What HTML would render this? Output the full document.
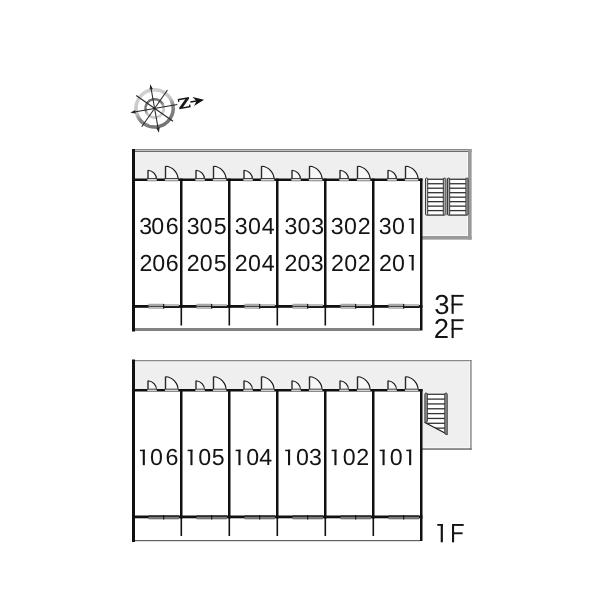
<!DOCTYPE html>
<html><head><meta charset="utf-8"><style>
html,body{margin:0;padding:0;background:#fff;}
svg{display:block;text-rendering:geometricPrecision;will-change:transform;}
</style></head><body>
<svg width="600" height="600" viewBox="0 0 600 600">
<rect width="600" height="600" fill="#fff"/>
<g transform="translate(154.6 108.4) rotate(-10)">
<defs><linearGradient id="go" gradientUnits="userSpaceOnUse" x1="0" y1="-20" x2="0" y2="20" gradientTransform="rotate(-14)"><stop offset="0" stop-color="#d0d0d0"/><stop offset="0.42" stop-color="#c6c6c6"/><stop offset="0.62" stop-color="#858585"/><stop offset="1" stop-color="#737373"/></linearGradient><linearGradient id="gi" gradientUnits="userSpaceOnUse" x1="0" y1="-10" x2="0" y2="10" gradientTransform="rotate(-14)"><stop offset="0" stop-color="#6e6e6e"/><stop offset="0.38" stop-color="#7a7a7a"/><stop offset="0.62" stop-color="#c4c4c4"/><stop offset="1" stop-color="#d0d0d0"/></linearGradient></defs>
<circle cx="0" cy="0" r="18.6" fill="none" stroke="url(#go)" stroke-width="3.6"/>
<circle cx="0" cy="0" r="9.2" fill="none" stroke="url(#gi)" stroke-width="2.6"/>
<line x1="-22" y1="0" x2="23" y2="0" stroke="#262626" stroke-width="1.05"/>
<line x1="0" y1="-22" x2="0" y2="22" stroke="#262626" stroke-width="1.05"/>
<line x1="-15.9" y1="-15.9" x2="15.9" y2="15.9" stroke="#262626" stroke-width="1.05"/>
<line x1="-15.9" y1="15.9" x2="15.9" y2="-15.9" stroke="#262626" stroke-width="1.05"/>
<polygon points="-24.6 0 -19.5 -1.7 -19.5 1.7" fill="#262626"/>
<polygon points="0 -24.6 -1.7 -19.5 1.7 -19.5" fill="#262626"/>
<polygon points="0 24.6 -1.7 19.5 1.7 19.5" fill="#262626"/>
<path d="M24.3 -5.2 L35.7 -5.2 L35.7 -3.7 L28.2 3.7 L34.4 3.7 L34.4 2.3 L35.8 2.3 L35.8 5.2 L24.3 5.2 L24.3 3.7 L31.8 -3.7 L25.6 -3.7 L25.6 -2.3 L24.3 -2.3 Z" fill="#1a1a1a"/>
<line x1="36.3" y1="0" x2="44" y2="0" stroke="#1a1a1a" stroke-width="1.5"/>
<polygon points="50.2 0 39.2 -4.6 42.6 0 39.2 4.6" fill="#111"/>
</g>
<rect x="133" y="149" width="338.6" height="90.6" fill="#efefef"/>
<rect x="133" y="149" width="338.6" height="1" fill="#888"/>
<rect x="133" y="150" width="338.6" height="1" fill="#c2c2c2"/>
<rect x="133" y="151" width="338.6" height="1" fill="#6c6c6c"/>
<rect x="467" y="152" width="1" height="83" fill="#fafafa"/>
<rect x="422" y="235" width="46" height="1" fill="#fafafa"/>
<rect x="468" y="149" width="3.6" height="90.6" fill="#9a9a9a"/>
<rect x="422" y="236" width="49.6" height="3.6" fill="#9a9a9a"/>
<rect x="135" y="181" width="285" height="150" fill="#fff"/>
<rect x="135" y="328" width="285" height="3" fill="#828282"/>
<rect x="132" y="149" width="3" height="182.5" fill="#111"/>
<rect x="132.5" y="178.5" width="290" height="2.5" fill="#111"/>
<rect x="420" y="178.5" width="2.5" height="152.0" fill="#111"/>
<rect x="132.5" y="305" width="290" height="2.8" fill="#111"/>
<rect x="180.0" y="178.5" width="2.5" height="129.5" fill="#111"/>
<rect x="180.5" y="307" width="1.6" height="18.5" fill="#111"/>
<rect x="228.0" y="178.5" width="2.5" height="129.5" fill="#111"/>
<rect x="228.5" y="307" width="1.6" height="18.5" fill="#111"/>
<rect x="276.0" y="178.5" width="2.5" height="129.5" fill="#111"/>
<rect x="276.5" y="307" width="1.6" height="18.5" fill="#111"/>
<rect x="324.0" y="178.5" width="2.5" height="129.5" fill="#111"/>
<rect x="324.5" y="307" width="1.6" height="18.5" fill="#111"/>
<rect x="372.0" y="178.5" width="2.5" height="129.5" fill="#111"/>
<rect x="372.5" y="307" width="1.6" height="18.5" fill="#111"/>
<path d="M147.9 170.2 A9.3 9.3 0 0 1 156.6 179.5 L147.9 179.5 Z" fill="#f7f7f7"/>
<rect x="147.3" y="170.2" width="1.4" height="9.3" fill="#2a2a2a"/>
<path d="M147.9 170.2 A9.3 9.3 0 0 1 156.6 179.5" fill="none" stroke="#111" stroke-width="1.15"/>
<rect x="147.3" y="178.3" width="9.6" height="3.0" fill="#8a8a8a"/>
<rect x="147.3" y="178.3" width="9.6" height="0.9" fill="#1a1a1a"/>
<rect x="147.7" y="179.2" width="8.8" height="1.0" fill="#f4f4f4"/>
<path d="M165.4 166.2 A13.3 13.3 0 0 1 178.1 179.5 L165.4 179.5 Z" fill="#f7f7f7"/>
<rect x="164.8" y="166.2" width="1.4" height="13.3" fill="#2a2a2a"/>
<path d="M165.4 166.2 A13.3 13.3 0 0 1 178.1 179.5" fill="none" stroke="#111" stroke-width="1.15"/>
<rect x="164.8" y="178.3" width="13.6" height="3.0" fill="#8a8a8a"/>
<rect x="164.8" y="178.3" width="13.6" height="0.9" fill="#1a1a1a"/>
<rect x="165.2" y="179.2" width="12.8" height="1.0" fill="#f4f4f4"/>
<rect x="148.5" y="303.8" width="15" height="4.8" fill="#8a8a8a"/>
<rect x="148.8" y="304.5" width="14.4" height="3.4" fill="#c4c4c4"/>
<rect x="148.5" y="305.8" width="15" height="1.0" fill="#2a2a2a"/>
<rect x="163.5" y="304.4" width="15.5" height="2.0" fill="#8e8e8e"/>
<rect x="164.0" y="305.0" width="14.5" height="0.9" fill="#c8c8c8"/>
<rect x="163.5" y="306.4" width="15.5" height="1.5" fill="#151515"/>
<rect x="163.1" y="303.9" width="1.1" height="4.8" fill="#111"/>
<path d="M195.9 170.2 A9.3 9.3 0 0 1 204.6 179.5 L195.9 179.5 Z" fill="#f7f7f7"/>
<rect x="195.3" y="170.2" width="1.4" height="9.3" fill="#2a2a2a"/>
<path d="M195.9 170.2 A9.3 9.3 0 0 1 204.6 179.5" fill="none" stroke="#111" stroke-width="1.15"/>
<rect x="195.3" y="178.3" width="9.6" height="3.0" fill="#8a8a8a"/>
<rect x="195.3" y="178.3" width="9.6" height="0.9" fill="#1a1a1a"/>
<rect x="195.7" y="179.2" width="8.8" height="1.0" fill="#f4f4f4"/>
<path d="M213.4 166.2 A13.3 13.3 0 0 1 226.1 179.5 L213.4 179.5 Z" fill="#f7f7f7"/>
<rect x="212.8" y="166.2" width="1.4" height="13.3" fill="#2a2a2a"/>
<path d="M213.4 166.2 A13.3 13.3 0 0 1 226.1 179.5" fill="none" stroke="#111" stroke-width="1.15"/>
<rect x="212.8" y="178.3" width="13.6" height="3.0" fill="#8a8a8a"/>
<rect x="212.8" y="178.3" width="13.6" height="0.9" fill="#1a1a1a"/>
<rect x="213.2" y="179.2" width="12.8" height="1.0" fill="#f4f4f4"/>
<rect x="196.5" y="303.8" width="15" height="4.8" fill="#8a8a8a"/>
<rect x="196.8" y="304.5" width="14.4" height="3.4" fill="#c4c4c4"/>
<rect x="196.5" y="305.8" width="15" height="1.0" fill="#2a2a2a"/>
<rect x="211.5" y="304.4" width="15.5" height="2.0" fill="#8e8e8e"/>
<rect x="212.0" y="305.0" width="14.5" height="0.9" fill="#c8c8c8"/>
<rect x="211.5" y="306.4" width="15.5" height="1.5" fill="#151515"/>
<rect x="211.1" y="303.9" width="1.1" height="4.8" fill="#111"/>
<path d="M243.9 170.2 A9.3 9.3 0 0 1 252.6 179.5 L243.9 179.5 Z" fill="#f7f7f7"/>
<rect x="243.3" y="170.2" width="1.4" height="9.3" fill="#2a2a2a"/>
<path d="M243.9 170.2 A9.3 9.3 0 0 1 252.6 179.5" fill="none" stroke="#111" stroke-width="1.15"/>
<rect x="243.3" y="178.3" width="9.6" height="3.0" fill="#8a8a8a"/>
<rect x="243.3" y="178.3" width="9.6" height="0.9" fill="#1a1a1a"/>
<rect x="243.7" y="179.2" width="8.8" height="1.0" fill="#f4f4f4"/>
<path d="M261.4 166.2 A13.3 13.3 0 0 1 274.1 179.5 L261.4 179.5 Z" fill="#f7f7f7"/>
<rect x="260.8" y="166.2" width="1.4" height="13.3" fill="#2a2a2a"/>
<path d="M261.4 166.2 A13.3 13.3 0 0 1 274.1 179.5" fill="none" stroke="#111" stroke-width="1.15"/>
<rect x="260.8" y="178.3" width="13.6" height="3.0" fill="#8a8a8a"/>
<rect x="260.8" y="178.3" width="13.6" height="0.9" fill="#1a1a1a"/>
<rect x="261.2" y="179.2" width="12.8" height="1.0" fill="#f4f4f4"/>
<rect x="244.5" y="303.8" width="15" height="4.8" fill="#8a8a8a"/>
<rect x="244.8" y="304.5" width="14.4" height="3.4" fill="#c4c4c4"/>
<rect x="244.5" y="305.8" width="15" height="1.0" fill="#2a2a2a"/>
<rect x="259.5" y="304.4" width="15.5" height="2.0" fill="#8e8e8e"/>
<rect x="260.0" y="305.0" width="14.5" height="0.9" fill="#c8c8c8"/>
<rect x="259.5" y="306.4" width="15.5" height="1.5" fill="#151515"/>
<rect x="259.1" y="303.9" width="1.1" height="4.8" fill="#111"/>
<path d="M291.9 170.2 A9.3 9.3 0 0 1 300.6 179.5 L291.9 179.5 Z" fill="#f7f7f7"/>
<rect x="291.3" y="170.2" width="1.4" height="9.3" fill="#2a2a2a"/>
<path d="M291.9 170.2 A9.3 9.3 0 0 1 300.6 179.5" fill="none" stroke="#111" stroke-width="1.15"/>
<rect x="291.3" y="178.3" width="9.6" height="3.0" fill="#8a8a8a"/>
<rect x="291.3" y="178.3" width="9.6" height="0.9" fill="#1a1a1a"/>
<rect x="291.7" y="179.2" width="8.8" height="1.0" fill="#f4f4f4"/>
<path d="M309.4 166.2 A13.3 13.3 0 0 1 322.1 179.5 L309.4 179.5 Z" fill="#f7f7f7"/>
<rect x="308.8" y="166.2" width="1.4" height="13.3" fill="#2a2a2a"/>
<path d="M309.4 166.2 A13.3 13.3 0 0 1 322.1 179.5" fill="none" stroke="#111" stroke-width="1.15"/>
<rect x="308.8" y="178.3" width="13.6" height="3.0" fill="#8a8a8a"/>
<rect x="308.8" y="178.3" width="13.6" height="0.9" fill="#1a1a1a"/>
<rect x="309.2" y="179.2" width="12.8" height="1.0" fill="#f4f4f4"/>
<rect x="292.5" y="303.8" width="15" height="4.8" fill="#8a8a8a"/>
<rect x="292.8" y="304.5" width="14.4" height="3.4" fill="#c4c4c4"/>
<rect x="292.5" y="305.8" width="15" height="1.0" fill="#2a2a2a"/>
<rect x="307.5" y="304.4" width="15.5" height="2.0" fill="#8e8e8e"/>
<rect x="308.0" y="305.0" width="14.5" height="0.9" fill="#c8c8c8"/>
<rect x="307.5" y="306.4" width="15.5" height="1.5" fill="#151515"/>
<rect x="307.1" y="303.9" width="1.1" height="4.8" fill="#111"/>
<path d="M339.9 170.2 A9.3 9.3 0 0 1 348.6 179.5 L339.9 179.5 Z" fill="#f7f7f7"/>
<rect x="339.3" y="170.2" width="1.4" height="9.3" fill="#2a2a2a"/>
<path d="M339.9 170.2 A9.3 9.3 0 0 1 348.6 179.5" fill="none" stroke="#111" stroke-width="1.15"/>
<rect x="339.3" y="178.3" width="9.6" height="3.0" fill="#8a8a8a"/>
<rect x="339.3" y="178.3" width="9.6" height="0.9" fill="#1a1a1a"/>
<rect x="339.7" y="179.2" width="8.8" height="1.0" fill="#f4f4f4"/>
<path d="M357.4 166.2 A13.3 13.3 0 0 1 370.1 179.5 L357.4 179.5 Z" fill="#f7f7f7"/>
<rect x="356.8" y="166.2" width="1.4" height="13.3" fill="#2a2a2a"/>
<path d="M357.4 166.2 A13.3 13.3 0 0 1 370.1 179.5" fill="none" stroke="#111" stroke-width="1.15"/>
<rect x="356.8" y="178.3" width="13.6" height="3.0" fill="#8a8a8a"/>
<rect x="356.8" y="178.3" width="13.6" height="0.9" fill="#1a1a1a"/>
<rect x="357.2" y="179.2" width="12.8" height="1.0" fill="#f4f4f4"/>
<rect x="340.5" y="303.8" width="15" height="4.8" fill="#8a8a8a"/>
<rect x="340.8" y="304.5" width="14.4" height="3.4" fill="#c4c4c4"/>
<rect x="340.5" y="305.8" width="15" height="1.0" fill="#2a2a2a"/>
<rect x="355.5" y="304.4" width="15.5" height="2.0" fill="#8e8e8e"/>
<rect x="356.0" y="305.0" width="14.5" height="0.9" fill="#c8c8c8"/>
<rect x="355.5" y="306.4" width="15.5" height="1.5" fill="#151515"/>
<rect x="355.1" y="303.9" width="1.1" height="4.8" fill="#111"/>
<path d="M387.9 170.2 A9.3 9.3 0 0 1 396.6 179.5 L387.9 179.5 Z" fill="#f7f7f7"/>
<rect x="387.3" y="170.2" width="1.4" height="9.3" fill="#2a2a2a"/>
<path d="M387.9 170.2 A9.3 9.3 0 0 1 396.6 179.5" fill="none" stroke="#111" stroke-width="1.15"/>
<rect x="387.3" y="178.3" width="9.6" height="3.0" fill="#8a8a8a"/>
<rect x="387.3" y="178.3" width="9.6" height="0.9" fill="#1a1a1a"/>
<rect x="387.7" y="179.2" width="8.8" height="1.0" fill="#f4f4f4"/>
<path d="M405.4 166.2 A13.3 13.3 0 0 1 418.1 179.5 L405.4 179.5 Z" fill="#f7f7f7"/>
<rect x="404.8" y="166.2" width="1.4" height="13.3" fill="#2a2a2a"/>
<path d="M405.4 166.2 A13.3 13.3 0 0 1 418.1 179.5" fill="none" stroke="#111" stroke-width="1.15"/>
<rect x="404.8" y="178.3" width="13.6" height="3.0" fill="#8a8a8a"/>
<rect x="404.8" y="178.3" width="13.6" height="0.9" fill="#1a1a1a"/>
<rect x="405.2" y="179.2" width="12.8" height="1.0" fill="#f4f4f4"/>
<rect x="388.5" y="303.8" width="15" height="4.8" fill="#8a8a8a"/>
<rect x="388.8" y="304.5" width="14.4" height="3.4" fill="#c4c4c4"/>
<rect x="388.5" y="305.8" width="15" height="1.0" fill="#2a2a2a"/>
<rect x="403.5" y="304.4" width="15.5" height="2.0" fill="#8e8e8e"/>
<rect x="404.0" y="305.0" width="14.5" height="0.9" fill="#c8c8c8"/>
<rect x="403.5" y="306.4" width="15.5" height="1.5" fill="#151515"/>
<rect x="403.1" y="303.9" width="1.1" height="4.8" fill="#111"/>
<rect x="426" y="178.6" width="19" height="36.6" fill="#fff"/>
<rect x="445.5" y="178.6" width="2" height="36.6" fill="#a0a0a0"/>
<rect x="427" y="178.6" width="17" height="1.3" fill="#333"/>
<rect x="427" y="183.08" width="17" height="1.3" fill="#333"/>
<rect x="427" y="187.56" width="17" height="1.3" fill="#333"/>
<rect x="427" y="192.04" width="17" height="1.3" fill="#333"/>
<rect x="427" y="196.52" width="17" height="1.3" fill="#333"/>
<rect x="427" y="201.0" width="17" height="1.3" fill="#333"/>
<rect x="427" y="205.48" width="17" height="1.3" fill="#333"/>
<rect x="427" y="209.96" width="17" height="1.3" fill="#333"/>
<rect x="427" y="214.44" width="17" height="1.3" fill="#333"/>
<rect x="425.5" y="178" width="2.2" height="37.2" rx="1" fill="#d4d4d4" stroke="#3a3a3a" stroke-width="1"/>
<rect x="443.3" y="178" width="2.2" height="37.2" rx="1" fill="#a8a8a8" stroke="#3a3a3a" stroke-width="1"/>
<rect x="448" y="178.6" width="19.6" height="36.6" fill="#fff"/>
<rect x="445.5" y="178.6" width="2" height="36.6" fill="#a0a0a0"/>
<rect x="449" y="178.6" width="17.6" height="1.3" fill="#333"/>
<rect x="449" y="183.08" width="17.6" height="1.3" fill="#333"/>
<rect x="449" y="187.56" width="17.6" height="1.3" fill="#333"/>
<rect x="449" y="192.04" width="17.6" height="1.3" fill="#333"/>
<rect x="449" y="196.52" width="17.6" height="1.3" fill="#333"/>
<rect x="449" y="201.0" width="17.6" height="1.3" fill="#333"/>
<rect x="449" y="205.48" width="17.6" height="1.3" fill="#333"/>
<rect x="449" y="209.96" width="17.6" height="1.3" fill="#333"/>
<rect x="449" y="214.44" width="17.6" height="1.3" fill="#333"/>
<rect x="447.5" y="178" width="2.2" height="37.2" rx="1" fill="#a8a8a8" stroke="#3a3a3a" stroke-width="1"/>
<rect x="465.9" y="178" width="2.2" height="37.2" rx="1" fill="#a8a8a8" stroke="#3a3a3a" stroke-width="1"/>
<rect x="133" y="360.0" width="338.6" height="89.5" fill="#efefef"/>
<rect x="133" y="360.0" width="338.6" height="1.2" fill="#888"/>
<rect x="469.2" y="361.0" width="1" height="87.5" fill="#fafafa"/>
<rect x="422" y="447.4" width="48" height="1" fill="#fafafa"/>
<rect x="470.2" y="360.0" width="1.4" height="89.5" fill="#888"/>
<rect x="422" y="448.4" width="49.6" height="1.3" fill="#5a5a5a"/>
<rect x="135" y="391.5" width="285" height="150" fill="#fff"/>
<rect x="135" y="540.0" width="285" height="1.2" fill="#5f5f5f"/>
<rect x="132" y="359.5" width="3" height="182.5" fill="#111"/>
<rect x="132.5" y="389.0" width="290" height="2.5" fill="#111"/>
<rect x="420" y="389.0" width="2.5" height="152.0" fill="#111"/>
<rect x="132.5" y="515.5" width="290" height="2.8" fill="#111"/>
<rect x="180.0" y="389.0" width="2.5" height="129.5" fill="#111"/>
<rect x="180.5" y="517.5" width="1.6" height="18.5" fill="#111"/>
<rect x="228.0" y="389.0" width="2.5" height="129.5" fill="#111"/>
<rect x="228.5" y="517.5" width="1.6" height="18.5" fill="#111"/>
<rect x="276.0" y="389.0" width="2.5" height="129.5" fill="#111"/>
<rect x="276.5" y="517.5" width="1.6" height="18.5" fill="#111"/>
<rect x="324.0" y="389.0" width="2.5" height="129.5" fill="#111"/>
<rect x="324.5" y="517.5" width="1.6" height="18.5" fill="#111"/>
<rect x="372.0" y="389.0" width="2.5" height="129.5" fill="#111"/>
<rect x="372.5" y="517.5" width="1.6" height="18.5" fill="#111"/>
<path d="M147.9 380.7 A9.3 9.3 0 0 1 156.6 390.0 L147.9 390.0 Z" fill="#f7f7f7"/>
<rect x="147.3" y="380.7" width="1.4" height="9.3" fill="#2a2a2a"/>
<path d="M147.9 380.7 A9.3 9.3 0 0 1 156.6 390.0" fill="none" stroke="#111" stroke-width="1.15"/>
<rect x="147.3" y="388.8" width="9.6" height="3.0" fill="#8a8a8a"/>
<rect x="147.3" y="388.8" width="9.6" height="0.9" fill="#1a1a1a"/>
<rect x="147.7" y="389.7" width="8.8" height="1.0" fill="#f4f4f4"/>
<path d="M165.4 376.7 A13.3 13.3 0 0 1 178.1 390.0 L165.4 390.0 Z" fill="#f7f7f7"/>
<rect x="164.8" y="376.7" width="1.4" height="13.3" fill="#2a2a2a"/>
<path d="M165.4 376.7 A13.3 13.3 0 0 1 178.1 390.0" fill="none" stroke="#111" stroke-width="1.15"/>
<rect x="164.8" y="388.8" width="13.6" height="3.0" fill="#8a8a8a"/>
<rect x="164.8" y="388.8" width="13.6" height="0.9" fill="#1a1a1a"/>
<rect x="165.2" y="389.7" width="12.8" height="1.0" fill="#f4f4f4"/>
<rect x="148.5" y="515.5" width="30.5" height="1.3" fill="#151515"/>
<rect x="148.5" y="516.7" width="30.5" height="2.6" fill="#6a6a6a"/>
<rect x="149.0" y="517.4" width="29.5" height="0.9" fill="#8c8c8c"/>
<rect x="163.1" y="515.1" width="1.1" height="4.4" fill="#111"/>
<path d="M195.9 380.7 A9.3 9.3 0 0 1 204.6 390.0 L195.9 390.0 Z" fill="#f7f7f7"/>
<rect x="195.3" y="380.7" width="1.4" height="9.3" fill="#2a2a2a"/>
<path d="M195.9 380.7 A9.3 9.3 0 0 1 204.6 390.0" fill="none" stroke="#111" stroke-width="1.15"/>
<rect x="195.3" y="388.8" width="9.6" height="3.0" fill="#8a8a8a"/>
<rect x="195.3" y="388.8" width="9.6" height="0.9" fill="#1a1a1a"/>
<rect x="195.7" y="389.7" width="8.8" height="1.0" fill="#f4f4f4"/>
<path d="M213.4 376.7 A13.3 13.3 0 0 1 226.1 390.0 L213.4 390.0 Z" fill="#f7f7f7"/>
<rect x="212.8" y="376.7" width="1.4" height="13.3" fill="#2a2a2a"/>
<path d="M213.4 376.7 A13.3 13.3 0 0 1 226.1 390.0" fill="none" stroke="#111" stroke-width="1.15"/>
<rect x="212.8" y="388.8" width="13.6" height="3.0" fill="#8a8a8a"/>
<rect x="212.8" y="388.8" width="13.6" height="0.9" fill="#1a1a1a"/>
<rect x="213.2" y="389.7" width="12.8" height="1.0" fill="#f4f4f4"/>
<rect x="196.5" y="515.5" width="30.5" height="1.3" fill="#151515"/>
<rect x="196.5" y="516.7" width="30.5" height="2.6" fill="#6a6a6a"/>
<rect x="197.0" y="517.4" width="29.5" height="0.9" fill="#8c8c8c"/>
<rect x="211.1" y="515.1" width="1.1" height="4.4" fill="#111"/>
<path d="M243.9 380.7 A9.3 9.3 0 0 1 252.6 390.0 L243.9 390.0 Z" fill="#f7f7f7"/>
<rect x="243.3" y="380.7" width="1.4" height="9.3" fill="#2a2a2a"/>
<path d="M243.9 380.7 A9.3 9.3 0 0 1 252.6 390.0" fill="none" stroke="#111" stroke-width="1.15"/>
<rect x="243.3" y="388.8" width="9.6" height="3.0" fill="#8a8a8a"/>
<rect x="243.3" y="388.8" width="9.6" height="0.9" fill="#1a1a1a"/>
<rect x="243.7" y="389.7" width="8.8" height="1.0" fill="#f4f4f4"/>
<path d="M261.4 376.7 A13.3 13.3 0 0 1 274.1 390.0 L261.4 390.0 Z" fill="#f7f7f7"/>
<rect x="260.8" y="376.7" width="1.4" height="13.3" fill="#2a2a2a"/>
<path d="M261.4 376.7 A13.3 13.3 0 0 1 274.1 390.0" fill="none" stroke="#111" stroke-width="1.15"/>
<rect x="260.8" y="388.8" width="13.6" height="3.0" fill="#8a8a8a"/>
<rect x="260.8" y="388.8" width="13.6" height="0.9" fill="#1a1a1a"/>
<rect x="261.2" y="389.7" width="12.8" height="1.0" fill="#f4f4f4"/>
<rect x="244.5" y="515.5" width="30.5" height="1.3" fill="#151515"/>
<rect x="244.5" y="516.7" width="30.5" height="2.6" fill="#6a6a6a"/>
<rect x="245.0" y="517.4" width="29.5" height="0.9" fill="#8c8c8c"/>
<rect x="259.1" y="515.1" width="1.1" height="4.4" fill="#111"/>
<path d="M291.9 380.7 A9.3 9.3 0 0 1 300.6 390.0 L291.9 390.0 Z" fill="#f7f7f7"/>
<rect x="291.3" y="380.7" width="1.4" height="9.3" fill="#2a2a2a"/>
<path d="M291.9 380.7 A9.3 9.3 0 0 1 300.6 390.0" fill="none" stroke="#111" stroke-width="1.15"/>
<rect x="291.3" y="388.8" width="9.6" height="3.0" fill="#8a8a8a"/>
<rect x="291.3" y="388.8" width="9.6" height="0.9" fill="#1a1a1a"/>
<rect x="291.7" y="389.7" width="8.8" height="1.0" fill="#f4f4f4"/>
<path d="M309.4 376.7 A13.3 13.3 0 0 1 322.1 390.0 L309.4 390.0 Z" fill="#f7f7f7"/>
<rect x="308.8" y="376.7" width="1.4" height="13.3" fill="#2a2a2a"/>
<path d="M309.4 376.7 A13.3 13.3 0 0 1 322.1 390.0" fill="none" stroke="#111" stroke-width="1.15"/>
<rect x="308.8" y="388.8" width="13.6" height="3.0" fill="#8a8a8a"/>
<rect x="308.8" y="388.8" width="13.6" height="0.9" fill="#1a1a1a"/>
<rect x="309.2" y="389.7" width="12.8" height="1.0" fill="#f4f4f4"/>
<rect x="292.5" y="515.5" width="30.5" height="1.3" fill="#151515"/>
<rect x="292.5" y="516.7" width="30.5" height="2.6" fill="#6a6a6a"/>
<rect x="293.0" y="517.4" width="29.5" height="0.9" fill="#8c8c8c"/>
<rect x="307.1" y="515.1" width="1.1" height="4.4" fill="#111"/>
<path d="M339.9 380.7 A9.3 9.3 0 0 1 348.6 390.0 L339.9 390.0 Z" fill="#f7f7f7"/>
<rect x="339.3" y="380.7" width="1.4" height="9.3" fill="#2a2a2a"/>
<path d="M339.9 380.7 A9.3 9.3 0 0 1 348.6 390.0" fill="none" stroke="#111" stroke-width="1.15"/>
<rect x="339.3" y="388.8" width="9.6" height="3.0" fill="#8a8a8a"/>
<rect x="339.3" y="388.8" width="9.6" height="0.9" fill="#1a1a1a"/>
<rect x="339.7" y="389.7" width="8.8" height="1.0" fill="#f4f4f4"/>
<path d="M357.4 376.7 A13.3 13.3 0 0 1 370.1 390.0 L357.4 390.0 Z" fill="#f7f7f7"/>
<rect x="356.8" y="376.7" width="1.4" height="13.3" fill="#2a2a2a"/>
<path d="M357.4 376.7 A13.3 13.3 0 0 1 370.1 390.0" fill="none" stroke="#111" stroke-width="1.15"/>
<rect x="356.8" y="388.8" width="13.6" height="3.0" fill="#8a8a8a"/>
<rect x="356.8" y="388.8" width="13.6" height="0.9" fill="#1a1a1a"/>
<rect x="357.2" y="389.7" width="12.8" height="1.0" fill="#f4f4f4"/>
<rect x="340.5" y="515.5" width="30.5" height="1.3" fill="#151515"/>
<rect x="340.5" y="516.7" width="30.5" height="2.6" fill="#6a6a6a"/>
<rect x="341.0" y="517.4" width="29.5" height="0.9" fill="#8c8c8c"/>
<rect x="355.1" y="515.1" width="1.1" height="4.4" fill="#111"/>
<path d="M387.9 380.7 A9.3 9.3 0 0 1 396.6 390.0 L387.9 390.0 Z" fill="#f7f7f7"/>
<rect x="387.3" y="380.7" width="1.4" height="9.3" fill="#2a2a2a"/>
<path d="M387.9 380.7 A9.3 9.3 0 0 1 396.6 390.0" fill="none" stroke="#111" stroke-width="1.15"/>
<rect x="387.3" y="388.8" width="9.6" height="3.0" fill="#8a8a8a"/>
<rect x="387.3" y="388.8" width="9.6" height="0.9" fill="#1a1a1a"/>
<rect x="387.7" y="389.7" width="8.8" height="1.0" fill="#f4f4f4"/>
<path d="M405.4 376.7 A13.3 13.3 0 0 1 418.1 390.0 L405.4 390.0 Z" fill="#f7f7f7"/>
<rect x="404.8" y="376.7" width="1.4" height="13.3" fill="#2a2a2a"/>
<path d="M405.4 376.7 A13.3 13.3 0 0 1 418.1 390.0" fill="none" stroke="#111" stroke-width="1.15"/>
<rect x="404.8" y="388.8" width="13.6" height="3.0" fill="#8a8a8a"/>
<rect x="404.8" y="388.8" width="13.6" height="0.9" fill="#1a1a1a"/>
<rect x="405.2" y="389.7" width="12.8" height="1.0" fill="#f4f4f4"/>
<rect x="388.5" y="515.5" width="30.5" height="1.3" fill="#151515"/>
<rect x="388.5" y="516.7" width="30.5" height="2.6" fill="#6a6a6a"/>
<rect x="389.0" y="517.4" width="29.5" height="0.9" fill="#8c8c8c"/>
<rect x="403.1" y="515.1" width="1.1" height="4.4" fill="#111"/>
<polygon points="424.4 392.8 447.7 392.8 447.7 434.5 424.4 422.2" fill="#fff"/>
<rect x="426.4" y="393.6" width="19.3" height="1.3" fill="#333"/>
<rect x="426.4" y="398.44" width="19.3" height="1.3" fill="#333"/>
<rect x="426.4" y="403.28" width="19.3" height="1.3" fill="#333"/>
<rect x="426.4" y="408.12" width="19.3" height="1.3" fill="#333"/>
<rect x="426.4" y="412.96" width="19.3" height="1.3" fill="#333"/>
<rect x="426.4" y="417.8" width="19.3" height="1.3" fill="#333"/>
<rect x="426.4" y="422.64" width="19.3" height="1.3" fill="#333"/>
<rect x="426.4" y="427.48" width="19.3" height="1.3" fill="#333"/>
<polygon points="424.4 422.2 447.7 434.5 424.4 436" fill="#efefef"/>
<line x1="424.4" y1="422.2" x2="447.7" y2="434.5" stroke="#1a1a1a" stroke-width="1.2"/>
<rect x="424.9" y="393.1" width="2.4" height="29.1" rx="1" fill="#9a9a9a" stroke="#333" stroke-width="1"/>
<rect x="444.8" y="393.1" width="2.4" height="41.2" rx="1" fill="#9a9a9a" stroke="#333" stroke-width="1"/>
<text x="139.32" y="234.0" style="font-family:'Liberation Sans',sans-serif;font-size:23.2px;fill:#141414">3</text>
<text x="151.19" y="234.0" style="font-family:'Liberation Sans',sans-serif;font-size:23.2px;fill:#141414">0</text>
<text x="165.82" y="234.0" style="font-family:'Liberation Sans',sans-serif;font-size:23.2px;fill:#141414">6</text>
<text x="186.87" y="234.0" style="font-family:'Liberation Sans',sans-serif;font-size:23.2px;fill:#141414">3</text>
<text x="199.49" y="234.0" style="font-family:'Liberation Sans',sans-serif;font-size:23.2px;fill:#141414">0</text>
<text x="213.67" y="234.0" style="font-family:'Liberation Sans',sans-serif;font-size:23.2px;fill:#141414">5</text>
<text x="234.87" y="234.0" style="font-family:'Liberation Sans',sans-serif;font-size:23.2px;fill:#141414">3</text>
<text x="247.89" y="234.0" style="font-family:'Liberation Sans',sans-serif;font-size:23.2px;fill:#141414">0</text>
<text x="261.67" y="234.0" style="font-family:'Liberation Sans',sans-serif;font-size:23.2px;fill:#141414">4</text>
<text x="284.42" y="234.0" style="font-family:'Liberation Sans',sans-serif;font-size:23.2px;fill:#141414">3</text>
<text x="297.39" y="234.0" style="font-family:'Liberation Sans',sans-serif;font-size:23.2px;fill:#141414">0</text>
<text x="311.22" y="234.0" style="font-family:'Liberation Sans',sans-serif;font-size:23.2px;fill:#141414">3</text>
<text x="330.87" y="234.0" style="font-family:'Liberation Sans',sans-serif;font-size:23.2px;fill:#141414">3</text>
<text x="343.89" y="234.0" style="font-family:'Liberation Sans',sans-serif;font-size:23.2px;fill:#141414">0</text>
<text x="357.83" y="234.0" style="font-family:'Liberation Sans',sans-serif;font-size:23.2px;fill:#141414">2</text>
<text x="378.87" y="234.0" style="font-family:'Liberation Sans',sans-serif;font-size:23.2px;fill:#141414">3</text>
<text x="391.89" y="234.0" style="font-family:'Liberation Sans',sans-serif;font-size:23.2px;fill:#141414">0</text>
<rect x="411.60" y="218.50" width="2.1" height="15.5" fill="#141414"/><rect x="408.80" y="218.50" width="4.9" height="1.5" fill="#141414"/>
<text x="139.43" y="270.5" style="font-family:'Liberation Sans',sans-serif;font-size:23.2px;fill:#141414">2</text>
<text x="152.34" y="270.5" style="font-family:'Liberation Sans',sans-serif;font-size:23.2px;fill:#141414">0</text>
<text x="165.82" y="270.5" style="font-family:'Liberation Sans',sans-serif;font-size:23.2px;fill:#141414">6</text>
<text x="186.83" y="270.5" style="font-family:'Liberation Sans',sans-serif;font-size:23.2px;fill:#141414">2</text>
<text x="199.69" y="270.5" style="font-family:'Liberation Sans',sans-serif;font-size:23.2px;fill:#141414">0</text>
<text x="213.67" y="270.5" style="font-family:'Liberation Sans',sans-serif;font-size:23.2px;fill:#141414">5</text>
<text x="234.83" y="270.5" style="font-family:'Liberation Sans',sans-serif;font-size:23.2px;fill:#141414">2</text>
<text x="247.89" y="270.5" style="font-family:'Liberation Sans',sans-serif;font-size:23.2px;fill:#141414">0</text>
<text x="261.67" y="270.5" style="font-family:'Liberation Sans',sans-serif;font-size:23.2px;fill:#141414">4</text>
<text x="284.53" y="270.5" style="font-family:'Liberation Sans',sans-serif;font-size:23.2px;fill:#141414">2</text>
<text x="297.39" y="270.5" style="font-family:'Liberation Sans',sans-serif;font-size:23.2px;fill:#141414">0</text>
<text x="310.82" y="270.5" style="font-family:'Liberation Sans',sans-serif;font-size:23.2px;fill:#141414">3</text>
<text x="330.93" y="270.5" style="font-family:'Liberation Sans',sans-serif;font-size:23.2px;fill:#141414">2</text>
<text x="344.29" y="270.5" style="font-family:'Liberation Sans',sans-serif;font-size:23.2px;fill:#141414">0</text>
<text x="357.83" y="270.5" style="font-family:'Liberation Sans',sans-serif;font-size:23.2px;fill:#141414">2</text>
<text x="378.93" y="270.5" style="font-family:'Liberation Sans',sans-serif;font-size:23.2px;fill:#141414">2</text>
<text x="391.89" y="270.5" style="font-family:'Liberation Sans',sans-serif;font-size:23.2px;fill:#141414">0</text>
<rect x="411.60" y="255.00" width="2.1" height="15.5" fill="#141414"/><rect x="408.80" y="255.00" width="4.9" height="1.5" fill="#141414"/>
<rect x="142.75" y="449.70" width="2.1" height="15.5" fill="#141414"/><rect x="139.95" y="449.70" width="4.9" height="1.5" fill="#141414"/>
<text x="150.09" y="465.2" style="font-family:'Liberation Sans',sans-serif;font-size:23.2px;fill:#141414">0</text>
<text x="165.52" y="465.2" style="font-family:'Liberation Sans',sans-serif;font-size:23.2px;fill:#141414">6</text>
<rect x="190.40" y="449.70" width="2.1" height="15.5" fill="#141414"/><rect x="187.60" y="449.70" width="4.9" height="1.5" fill="#141414"/>
<text x="198.34" y="465.2" style="font-family:'Liberation Sans',sans-serif;font-size:23.2px;fill:#141414">0</text>
<text x="211.77" y="465.2" style="font-family:'Liberation Sans',sans-serif;font-size:23.2px;fill:#141414">5</text>
<rect x="238.40" y="449.70" width="2.1" height="15.5" fill="#141414"/><rect x="235.60" y="449.70" width="4.9" height="1.5" fill="#141414"/>
<text x="246.34" y="465.2" style="font-family:'Liberation Sans',sans-serif;font-size:23.2px;fill:#141414">0</text>
<text x="259.37" y="465.2" style="font-family:'Liberation Sans',sans-serif;font-size:23.2px;fill:#141414">4</text>
<rect x="288.00" y="449.70" width="2.1" height="15.5" fill="#141414"/><rect x="285.20" y="449.70" width="4.9" height="1.5" fill="#141414"/>
<text x="295.89" y="465.2" style="font-family:'Liberation Sans',sans-serif;font-size:23.2px;fill:#141414">0</text>
<text x="308.92" y="465.2" style="font-family:'Liberation Sans',sans-serif;font-size:23.2px;fill:#141414">3</text>
<rect x="334.40" y="449.70" width="2.1" height="15.5" fill="#141414"/><rect x="331.60" y="449.70" width="4.9" height="1.5" fill="#141414"/>
<text x="342.69" y="465.2" style="font-family:'Liberation Sans',sans-serif;font-size:23.2px;fill:#141414">0</text>
<text x="356.23" y="465.2" style="font-family:'Liberation Sans',sans-serif;font-size:23.2px;fill:#141414">2</text>
<rect x="382.50" y="449.70" width="2.1" height="15.5" fill="#141414"/><rect x="379.70" y="449.70" width="4.9" height="1.5" fill="#141414"/>
<text x="389.84" y="465.2" style="font-family:'Liberation Sans',sans-serif;font-size:23.2px;fill:#141414">0</text>
<rect x="409.10" y="449.70" width="2.1" height="15.5" fill="#141414"/><rect x="406.30" y="449.70" width="4.9" height="1.5" fill="#141414"/>
<text x="434.15" y="314.0" style="font-family:'Liberation Sans',sans-serif;font-size:27.5px;fill:#141414">3</text>
<text x="433.82" y="338.1" style="font-family:'Liberation Sans',sans-serif;font-size:27.5px;fill:#141414">2</text>
<rect x="451.6" y="294.9" width="2.1" height="18.9" fill="#141414"/><rect x="451.6" y="294.9" width="12.1" height="1.9" fill="#141414"/><rect x="451.6" y="303.50" width="11.0" height="1.9" fill="#141414"/>
<rect x="451.6" y="319.3" width="2.1" height="18.8" fill="#141414"/><rect x="451.6" y="319.3" width="12.1" height="1.9" fill="#141414"/><rect x="451.6" y="327.85" width="11.0" height="1.9" fill="#141414"/>
<rect x="452.0" y="524.0" width="2.1" height="18.3" fill="#141414"/><rect x="452.0" y="524.0" width="11.7" height="1.9" fill="#141414"/><rect x="452.0" y="532.33" width="10.6" height="1.9" fill="#141414"/>
<rect x="440.70" y="524.00" width="2.2" height="18.3" fill="#141414"/><rect x="437.30" y="524.00" width="5.6" height="1.8" fill="#141414"/>
</svg>
</body></html>
